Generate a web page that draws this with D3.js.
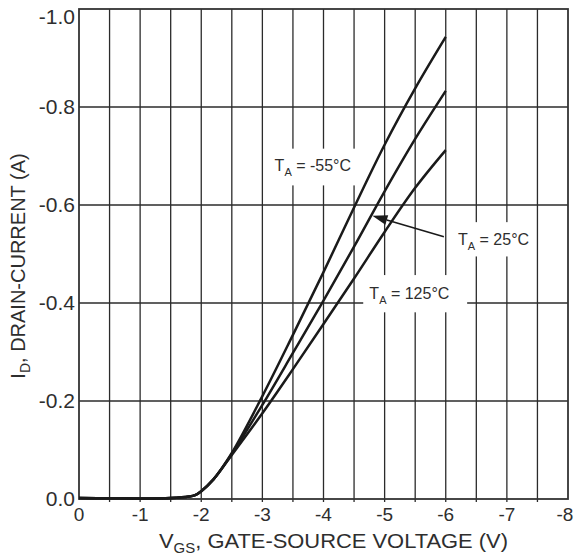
<!DOCTYPE html>
<html><head><meta charset="utf-8">
<script src="https://cdn.jsdelivr.net/npm/d3@7"></script>
<style>
html,body{margin:0;padding:0;background:#fff;}
svg{display:block;font-family:"Liberation Sans",Arial,Helvetica,sans-serif;}
</style></head>
<body><svg id="c" width="577" height="560"></svg>
<script>
// ---- data ----
const vgs      = [0, -0.5, -1.0, -1.5, -1.8, -1.9, -2.0, -2.2, -2.5, -3.0, -3.5, -4.0, -4.5, -5.0, -5.5, -6.0];
const idM55    = [-0.002, -0.0015, -0.001, -0.002, -0.005, -0.008, -0.016, -0.04, -0.094, -0.21, -0.335, -0.463, -0.595, -0.723, -0.838, -0.943];
const id25     = [-0.002, -0.0015, -0.001, -0.002, -0.005, -0.008, -0.016, -0.04, -0.092, -0.192, -0.298, -0.405, -0.515, -0.628, -0.735, -0.833];
const id125    = [-0.002, -0.0015, -0.001, -0.002, -0.005, -0.008, -0.016, -0.04, -0.09, -0.175, -0.265, -0.357, -0.45, -0.545, -0.635, -0.712];
const seriesNames = ["-55°C", "25°C", "125°C"];
const xTicks   = [0, -1, -2, -3, -4, -5, -6, -7, -8];
const xGrid    = [-0.5, -1, -1.5, -2, -2.5, -3, -3.5, -4, -4.5, -5, -5.5, -6, -6.5, -7, -7.5];
const yTicks   = [0, -0.2, -0.4, -0.6, -0.8, -1.0];
const yGrid    = [-0.2, -0.4, -0.6, -0.8];

const svg = d3.select("#c");
const L = 79, T = 9, R = 568, B = 499;
const x = d3.scaleLinear().domain([0, -8]).range([L, R]);
const y = d3.scaleLinear().domain([0, -1.0]).range([B, T]);

const gridC = "#2b2b2b", txtC = "#2e2e2e";

// grid
svg.append("g").selectAll("line").data(xGrid).join("line")
  .attr("x1", d => x(d)).attr("x2", d => x(d)).attr("y1", T).attr("y2", B + 3)
  .attr("stroke", gridC).attr("stroke-width", 1.3);
svg.append("g").selectAll("line").data(yGrid).join("line")
  .attr("x1", L).attr("x2", R).attr("y1", d => y(d)).attr("y2", d => y(d))
  .attr("stroke", gridC).attr("stroke-width", 1.3);

// label boxes (white, break the grid)
const boxes = [
  {x0: -3.1, x1: -4.6, y0: -0.640, y1: -0.715},
  {x0: -6.15, x1: -7.4, y0: -0.495, y1: -0.565},
  {x0: -4.65, x1: -6.35, y0: -0.381, y1: -0.457}
];
svg.append("g").selectAll("rect").data(boxes).join("rect")
  .attr("x", d => x(d.x0)).attr("y", d => y(d.y1))
  .attr("width", d => x(d.x1) - x(d.x0)).attr("height", d => y(d.y0) - y(d.y1))
  .attr("fill", "#fff");

// frame
svg.append("rect").attr("x", L).attr("y", T).attr("width", R - L).attr("height", B - T)
  .attr("fill", "none").attr("stroke", "#333").attr("stroke-width", 1.8);

// curves
const line = d3.line().x(d => x(d[0])).y(d => y(d[1])).curve(d3.curveCatmullRom.alpha(0.5));
[idM55, id25, id125].forEach(s => {
  svg.append("path").datum(vgs.map((v, i) => [v, s[i]]))
    .attr("d", line).attr("fill", "none").attr("stroke", "#1a1a1a").attr("stroke-width", 2.5)
    .attr("stroke-linejoin", "round");
});

// y tick labels
svg.append("g").selectAll("text").data(yTicks).join("text")
  .attr("x", L - 4).attr("y", d => y(d) + (d === -1.0 ? 8 : 0))
  .attr("dy", "0.35em").attr("text-anchor", "end")
  .attr("font-size", 21).attr("fill", txtC)
  .text(d => d === 0 ? "0.0" : d.toFixed(1));

// x tick labels
svg.append("g").selectAll("text").data(xTicks).join("text")
  .attr("x", d => x(d) + (d === -8 ? -3 : 0)).attr("y", B + 22)
  .attr("text-anchor", "middle")
  .attr("font-size", 19).attr("fill", txtC)
  .text(d => String(d));

// axis titles
const xt = svg.append("text").attr("x", 159).attr("y", 548).attr("text-anchor", "start")
  .attr("font-size", 20.5).attr("fill", txtC)
  .attr("textLength", 349).attr("lengthAdjust", "spacingAndGlyphs");
xt.append("tspan").text("V");
xt.append("tspan").attr("font-size", 14).attr("dy", 5).text("GS");
xt.append("tspan").attr("dy", -5).text(", GATE-SOURCE VOLTAGE (V)");

const yt = svg.append("text").attr("transform", "translate(25,266) rotate(-90)")
  .attr("text-anchor", "middle").attr("font-size", 20).attr("fill", txtC);
yt.append("tspan").text("I");
yt.append("tspan").attr("font-size", 14).attr("dy", 5).text("D");
yt.append("tspan").attr("dy", -5).text(", DRAIN-CURRENT (A)");

// series labels
const labels = [
  {v: -3.2, i: -0.68, name: seriesNames[0]},
  {v: -6.2, i: -0.53, name: seriesNames[1]},
  {v: -4.75, i: -0.419, name: seriesNames[2]}
];
labels.forEach(l => {
  const t = svg.append("text").attr("x", x(l.v)).attr("y", y(l.i)).attr("dy", "0.35em")
    .attr("font-size", 16).attr("fill", txtC);
  t.append("tspan").text("T");
  t.append("tspan").attr("font-size", 11).attr("dy", 5).text("A");
  t.append("tspan").attr("dy", -5).text(" = " + l.name);
});

// arrow for 25°C
const tail = [x(-5.97), y(-0.535)], tip = [x(-4.8), y(-0.578)];
const ang = Math.atan2(tip[1] - tail[1], tip[0] - tail[0]);
const hl = 15, hw = 5;
const bx = tip[0] - hl * Math.cos(ang), by = tip[1] - hl * Math.sin(ang);
svg.append("line").attr("x1", tail[0]).attr("y1", tail[1]).attr("x2", bx).attr("y2", by)
  .attr("stroke", "#1a1a1a").attr("stroke-width", 1.6);
svg.append("path").attr("d", `M${tip[0]},${tip[1]} L${bx + hw * Math.sin(ang)},${by - hw * Math.cos(ang)} L${bx - hw * Math.sin(ang)},${by + hw * Math.cos(ang)} Z`)
  .attr("fill", "#1a1a1a");
</script></body></html>
